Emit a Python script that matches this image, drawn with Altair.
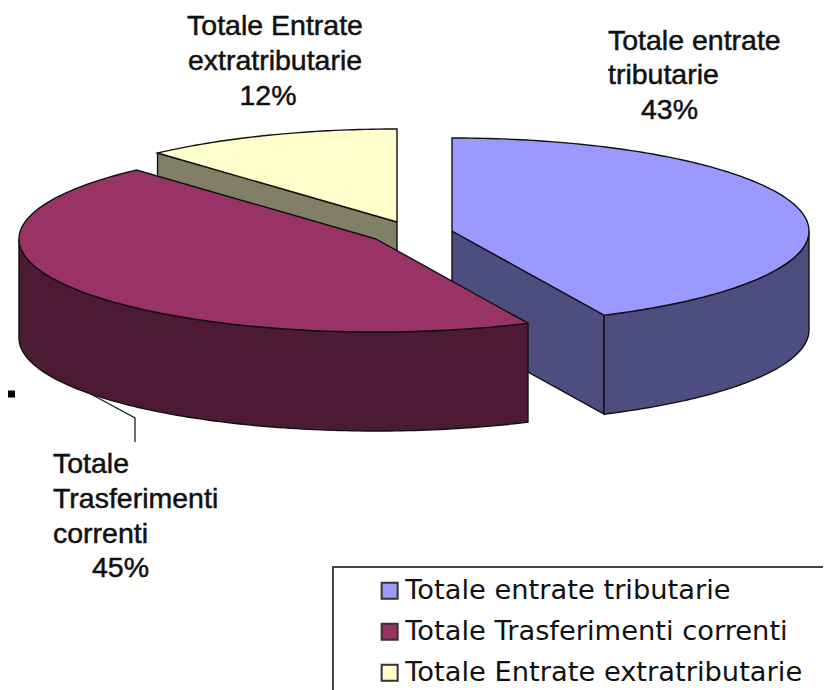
import math
import altair as alt
import pandas as pd

categories = ["Totale entrate tributarie", "Totale Trasferimenti correnti", "Totale Entrate extratributarie"]
shares = [43.0, 45.3, 11.7]
top_colors = ["#9999FF", "#993366", "#FFFFCC"]
side_colors = ["#4D4D80", "#4D1A33", "#808066"]
centers = [(452, 231), (376, 239), (397, 222)]
label_lines = [
    ("Totale Entrate", 275, 35, "center"), ("extratributarie", 275, 70, "center"), ("12%", 268, 105, "center"),
    ("Totale entrate", 608, 50, "left"), ("tributarie", 608, 84, "left"), ("43%", 641, 119, "left"),
    ("Totale", 53, 473, "left"), ("Trasferimenti", 53, 508, "left"), ("correnti", 53, 543, "left"), ("45%", 92, 577, "left"),
]
RX, RY, DEPTH = 357, 93, 99

cum = [0]
for s in shares:
    cum.append(cum[-1] + s * 3.6)


def pt(c, deg, drop=0):
    t = math.radians(deg)
    return (c[0] + RX * math.sin(t), c[1] - RY * math.cos(t) + drop)


def arc(c, a, b, drop=0):
    n = max(2, int(abs(b - a)) + 1)
    return [pt(c, a + (b - a) * i / (n - 1), drop) for i in range(n)]


rows = []


def add(part, pts):
    pts = list(pts) + [pts[0]]
    for i, (x, y) in enumerate(pts):
        rows.append({"part": part, "i": i, "x": x, "y": y})


# yellow slice: radial wall then top
cY = centers[2]
a0, a1 = cum[2], cum[3]
add("wall3", [pt(cY, a0), cY, (cY[0], cY[1] + DEPTH), pt(cY, a0, DEPTH)])
add(categories[2], [cY] + arc(cY, a0, a1))
# blue slice: walls then top
cB = centers[0]
a0, a1 = cum[0], cum[1]
add("wall1", [cB, pt(cB, a1), pt(cB, a1, DEPTH), (cB[0], cB[1] + DEPTH)])
add("rim1", arc(cB, 90, a1) + arc(cB, a1, 90, DEPTH))
add(categories[0], [cB] + arc(cB, a0, a1))
# maroon slice: rim then top
cM = centers[1]
a0, a1 = cum[1], cum[2]
add("rim2", arc(cM, a0, 270) + arc(cM, 270, a0, DEPTH))
add(categories[1], [cM] + arc(cM, a0, a1))

df = pd.DataFrame(rows)
domain = categories + ["wall1", "rim1", "rim2", "wall3"]
rng = top_colors + [side_colors[0], side_colors[0], side_colors[1], side_colors[2]]

X = alt.X("x:Q", scale=alt.Scale(domain=[8, 823]), axis=None)
Y = alt.Y("y:Q", scale=alt.Scale(domain=[690, 8]), axis=None)

pie = alt.Chart(df).mark_line(stroke="#111", strokeWidth=1.4).encode(
    x=X, y=Y, order="i:Q",
    fill=alt.Fill("part:N", scale=alt.Scale(domain=domain, range=rng),
                  legend=alt.Legend(values=categories, title=None, orient="none", legendX=368, legendY=569,
                                    symbolType="square", symbolSize=256, symbolStrokeColor="#333",
                                    symbolStrokeWidth=2, labelFont="DejaVu Sans", labelFontSize=27.3,
                                    labelColor="#111", labelOffset=2, rowPadding=13, labelLimit=500)),
)

leader = alt.Chart(pd.DataFrame({"x": [87, 135, 135], "y": [392, 418, 442], "i": [0, 1, 2]})).mark_line(
    color="#222", strokeWidth=1.3).encode(x=X, y=Y, order="i:Q")

box = alt.Chart(pd.DataFrame({"x": [333, 333, 823], "y": [690, 567, 567], "i": [0, 1, 2]})).mark_line(
    color="#444", strokeWidth=2).encode(x=X, y=Y, order="i:Q")

tick = alt.Chart(pd.DataFrame({"x": [8], "x2": [15], "y": [394]})).mark_rule(color="#000", strokeWidth=7).encode(
    x=X, x2="x2:Q", y=Y)

text_df = pd.DataFrame(label_lines, columns=["t", "x", "y", "align"])
texts = []
for al in ["center", "left"]:
    texts.append(alt.Chart(text_df[text_df["align"] == al]).mark_text(
        font="Liberation Sans", fontSize=28.5, color="#111", align=al, baseline="alphabetic", stroke="#111", strokeWidth=0.5
    ).encode(x=X, y=Y, text="t:N"))

chart = alt.layer(box, pie, leader, tick, *texts).properties(
    width=815, height=682, padding=0, autosize=alt.AutoSizeParams(type="none"),
).configure_view(stroke=None)

chart.save("out.html", embed_options={"renderer": "svg", "actions": False})
